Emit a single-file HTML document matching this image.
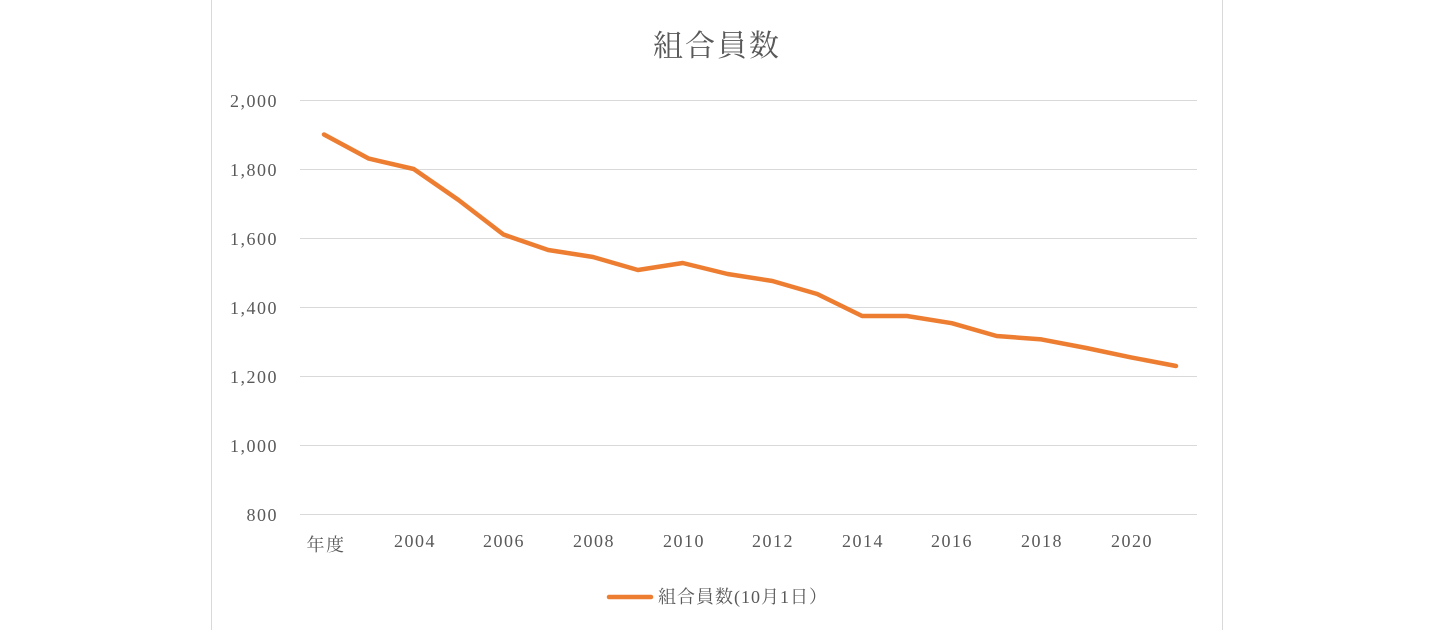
<!DOCTYPE html>
<html><head><meta charset="utf-8"><style>
html,body{margin:0;padding:0;background:#fff;}
</style></head><body>
<svg width="1440" height="630" xmlns="http://www.w3.org/2000/svg" style="display:block;font-family:'Liberation Serif','Noto Serif CJK JP','Noto Serif CJK SC',serif;">
<rect x="211.5" y="-2" width="1011" height="640" fill="#fff" stroke="#d9d9d9" stroke-width="1"/>
<text x="717" y="56" font-size="30" letter-spacing="2" fill="#595959" text-anchor="middle">組合員数</text>
<g stroke="#d9d9d9" stroke-width="1">
<line x1="300" y1="100.5" x2="1197" y2="100.5"/>
<line x1="300" y1="169.5" x2="1197" y2="169.5"/>
<line x1="300" y1="238.5" x2="1197" y2="238.5"/>
<line x1="300" y1="307.5" x2="1197" y2="307.5"/>
<line x1="300" y1="376.5" x2="1197" y2="376.5"/>
<line x1="300" y1="445.5" x2="1197" y2="445.5"/>
<line x1="300" y1="514.5" x2="1197" y2="514.5"/>
</g>
<g font-size="18" letter-spacing="1.5" fill="#595959" text-anchor="end">
<text x="278" y="107">2,000</text>
<text x="278" y="176">1,800</text>
<text x="278" y="245">1,600</text>
<text x="278" y="314">1,400</text>
<text x="278" y="383">1,200</text>
<text x="278" y="452">1,000</text>
<text x="278" y="521">800</text>
</g>
<g font-size="18" letter-spacing="1.5" fill="#595959" text-anchor="middle">
<text x="326" y="551">年度</text>
<text x="415" y="547">2004</text>
<text x="504" y="547">2006</text>
<text x="594" y="547">2008</text>
<text x="684" y="547">2010</text>
<text x="773" y="547">2012</text>
<text x="863" y="547">2014</text>
<text x="952" y="547">2016</text>
<text x="1042" y="547">2018</text>
<text x="1132" y="547">2020</text>
</g>
<polyline fill="none" stroke="#ed7d31" stroke-width="4.5" stroke-linejoin="round" stroke-linecap="round"
points="324,134.5 368.8,158.6 413.7,169 458.5,200 503.4,234.5 548.2,250 593,257 637.9,270 682.7,263 727.6,274 772.4,281 817.2,294 862.1,316 906.9,316 951.8,323.2 996.6,336 1041.4,339.4 1086.3,348 1131.1,357.4 1176,366"/>
<line x1="609" y1="597" x2="651" y2="597" stroke="#ed7d31" stroke-width="4.5" stroke-linecap="round"/>
<text x="658" y="603" font-size="18" letter-spacing="1" fill="#595959">組合員数(10月1日）</text>
</svg>
</body></html>
